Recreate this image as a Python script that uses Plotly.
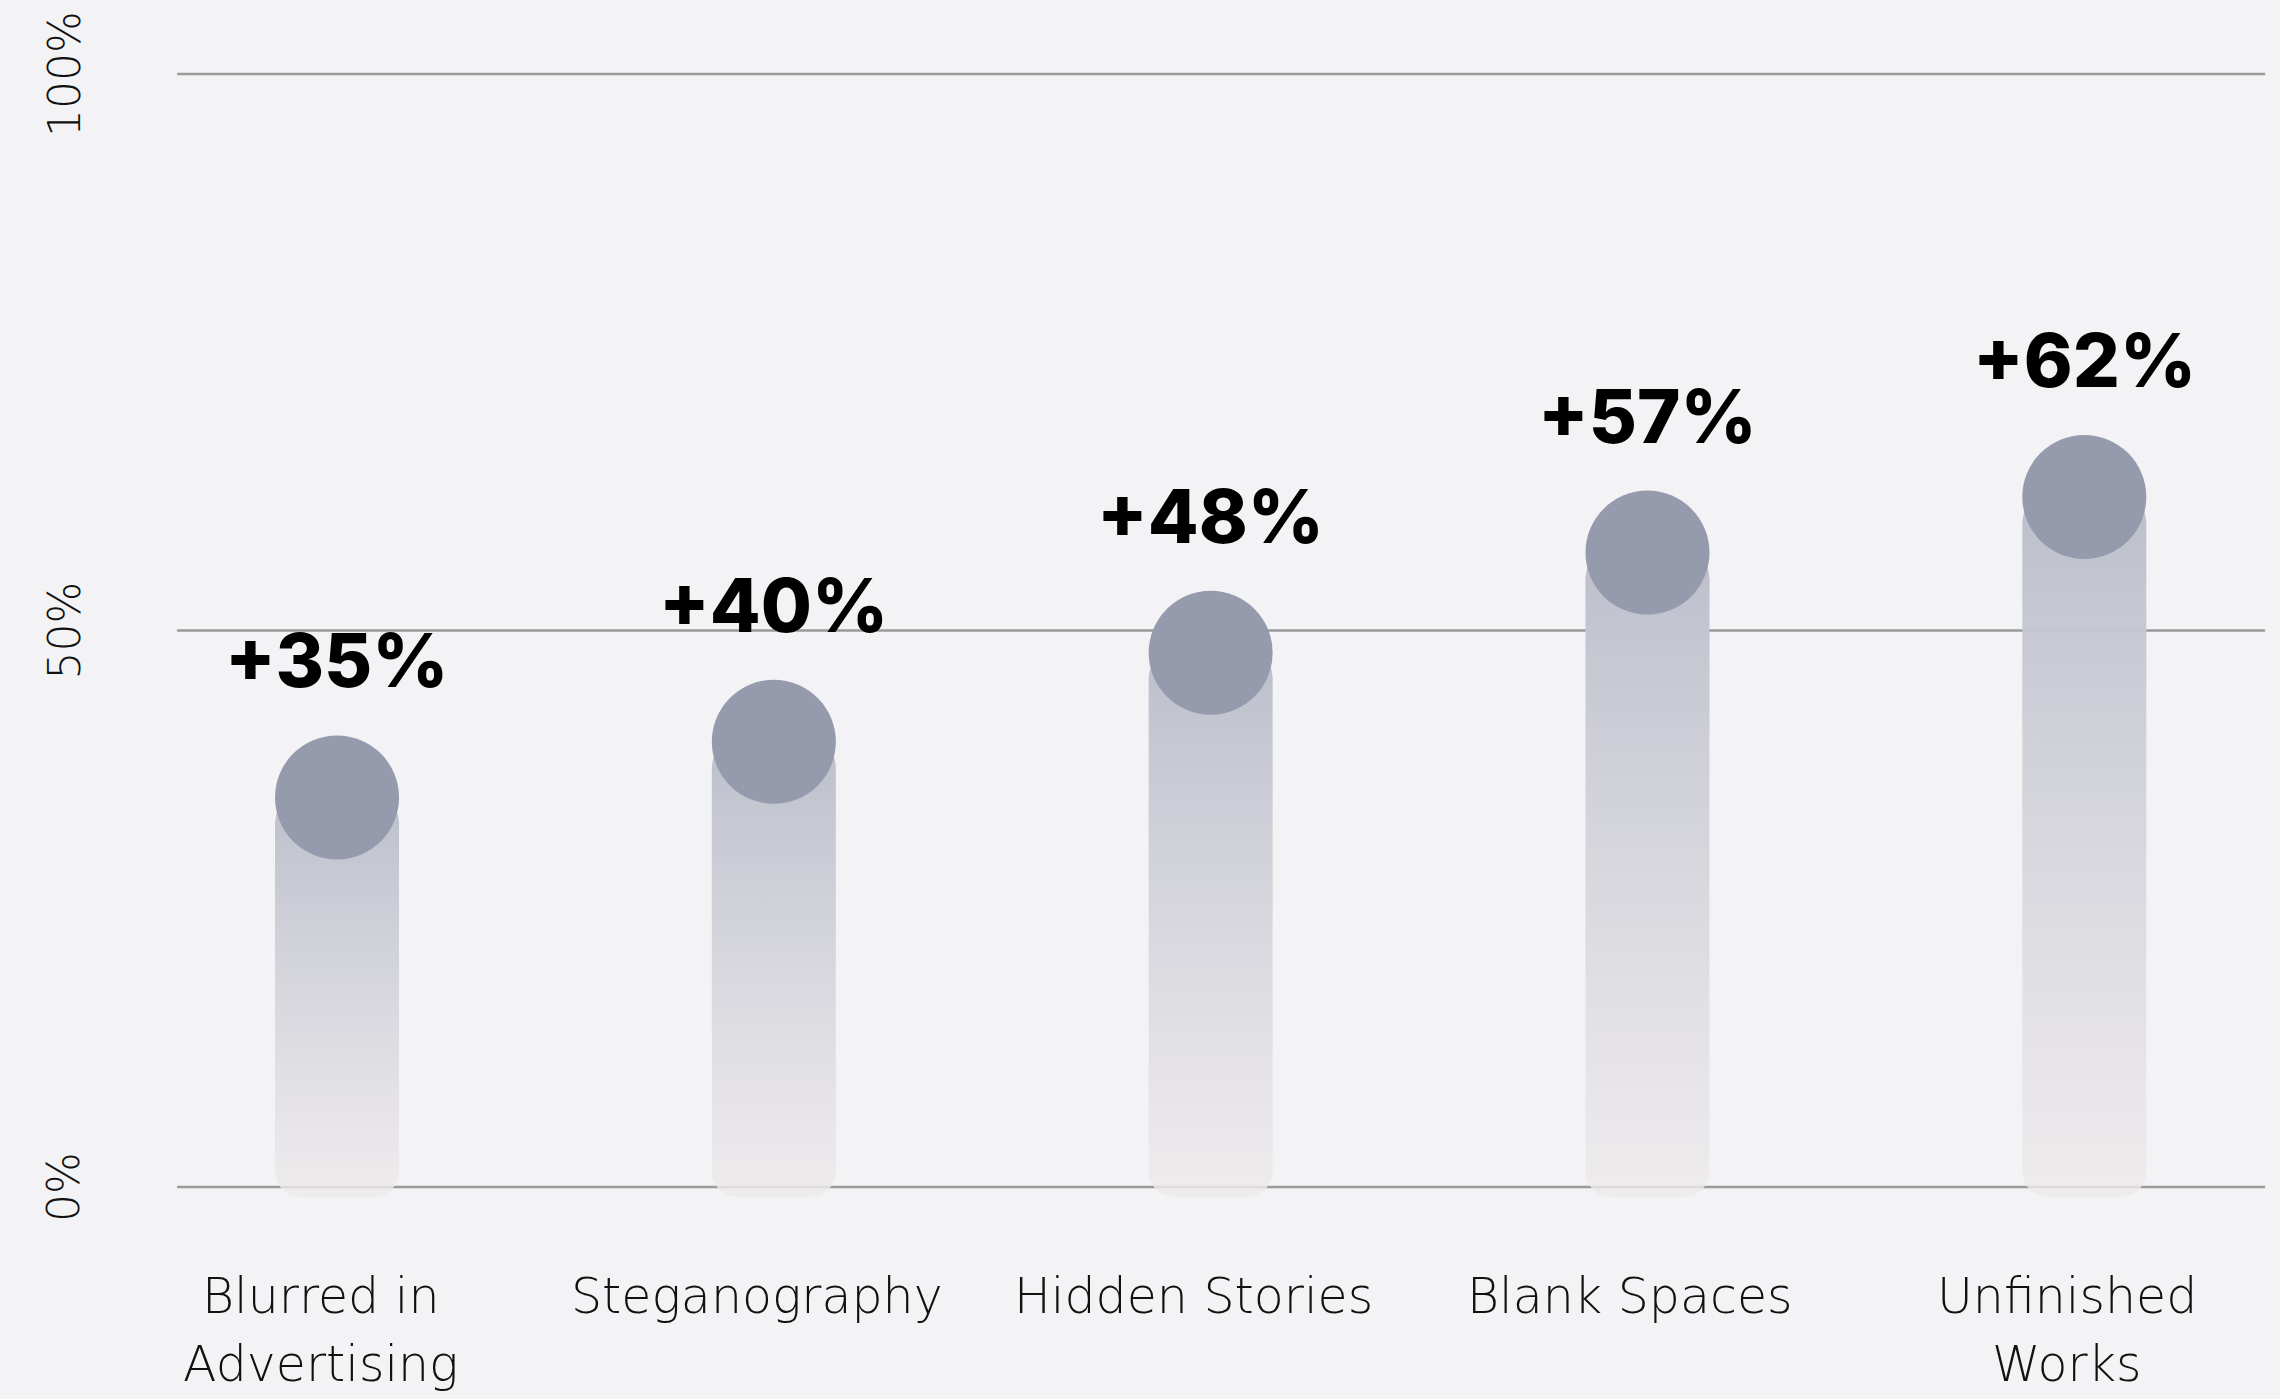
import numpy as np
import plotly.graph_objects as go

# ---- data -------------------------------------------------------------
categories = ["Blurred in\nAdvertising", "Steganography", "Hidden Stories",
              "Blank Spaces", "Unfinished\nWorks"]
values = [35, 40, 48, 57, 62]
value_labels = ["+35%", "+40%", "+48%", "+57%", "+62%"]
y_ticks = [0, 50, 100]
y_tick_labels = ["0%", "50%", "100%"]

# ---- layout geometry --------------------------------------------------
W, H = 2280, 1399
X_RANGE = [-0.7715, 4.448]
Y_RANGE = [-19.05, 106.65]
PX_X = W / (X_RANGE[1] - X_RANGE[0])   # pixels per category unit
PX_Y = H / (Y_RANGE[1] - Y_RANGE[0])   # pixels per percentage point

BAR_W_PX = 124
DOT_PX = 124
RADIUS_PX = 25
BAR_BASE = -0.9          # bars dip slightly below the zero line
LABEL_SHIFT_PX = 137     # value label above the dot centre
GRID_X = [-0.366, 4.414]

BG = "#f3f3f5"
DOT_COLOR = "#959aad"
BAR_TOP = "#bcbfcb"
BAR_BOTTOM = "rgba(238,234,236,0.82)"
GRID_COLOR = "#9a9a9a"

LABEL_FONT = "Inter, Liberation Sans, sans-serif"
TEXT_FONT = "DejaVu Sans, sans-serif"


def rounded_bar(xc, y0, y1):
    """Polygon of a round-cornered bar in data coordinates."""
    hw = BAR_W_PX / 2 / PX_X
    rx = RADIUS_PX / PX_X
    ry = RADIUS_PX / PX_Y
    t = np.linspace(0, np.pi / 2, 12)
    xs, ys = [], []
    # top-right, top-left, bottom-left, bottom-right corners
    corners = [
        (xc + hw - rx, y1 - ry, 0.0),
        (xc - hw + rx, y1 - ry, np.pi / 2),
        (xc - hw + rx, y0 + ry, np.pi),
        (xc + hw - rx, y0 + ry, 1.5 * np.pi),
    ]
    for cx, cy, a0 in corners:
        xs.extend(cx + rx * np.cos(a0 + t))
        ys.extend(cy + ry * np.sin(a0 + t))
    xs.append(xs[0])
    ys.append(ys[0])
    return xs, ys


fig = go.Figure()

# gradient bars
for i, v in enumerate(values):
    bx, by = rounded_bar(i, BAR_BASE, v)
    fig.add_trace(go.Scatter(
        x=bx, y=by, mode="lines", fill="toself",
        line=dict(width=0, color="rgba(0,0,0,0)"),
        fillcolor=BAR_TOP,
        fillgradient=dict(type="vertical",
                          colorscale=[[0, BAR_BOTTOM], [1, BAR_TOP]],
                          start=BAR_BASE, stop=v),
        hoverinfo="skip", showlegend=False,
    ))

# dots at the value of each bar
fig.add_trace(go.Scatter(
    x=list(range(len(values))), y=values, mode="markers",
    marker=dict(size=DOT_PX, color=DOT_COLOR, line=dict(width=0)),
    hoverinfo="skip", showlegend=False,
))

# horizontal grid lines
shapes = [
    dict(type="line", xref="x", yref="y", x0=GRID_X[0], x1=GRID_X[1],
         y0=t, y1=t, line=dict(color=GRID_COLOR, width=2.5), layer="below")
    for t in y_ticks
]

annotations = []
# value labels
for i, (v, lab) in enumerate(zip(values, value_labels)):
    annotations.append(dict(
        x=i, y=v, xref="x", yref="y", text=lab, showarrow=False,
        yshift=LABEL_SHIFT_PX, xanchor="center", yanchor="middle",
        font=dict(family=LABEL_FONT, size=74, color="#000000", weight=800),
    ))

# rotated y tick labels
for t, lab in zip(y_ticks, y_tick_labels):
    annotations.append(dict(
        x=64 / W, y=t, xref="paper", yref="y", text=lab, showarrow=False,
        textangle=-90, xanchor="center", yanchor="middle",
        font=dict(family=TEXT_FONT, size=44, color="#111111", weight=200),
    ))

# category labels (one annotation per line)
LINE_Y = [1296, 1364]
for i, cat in enumerate(categories):
    for j, line in enumerate(cat.split("\n")):
        annotations.append(dict(
            x=i, y=1 - LINE_Y[j] / H, xref="x", yref="paper", text=line,
            showarrow=False, xshift=-17, xanchor="center", yanchor="middle",
            font=dict(family=TEXT_FONT, size=49, color="#111111", weight=200),
        ))

fig.update_layout(
    width=W, height=H,
    margin=dict(l=0, r=0, t=0, b=0),
    paper_bgcolor=BG, plot_bgcolor=BG,
    xaxis=dict(range=X_RANGE, visible=False, fixedrange=True),
    yaxis=dict(range=Y_RANGE, visible=False, fixedrange=True),
    shapes=shapes, annotations=annotations,
    showlegend=False,
)

fig.write_html("out.html")
